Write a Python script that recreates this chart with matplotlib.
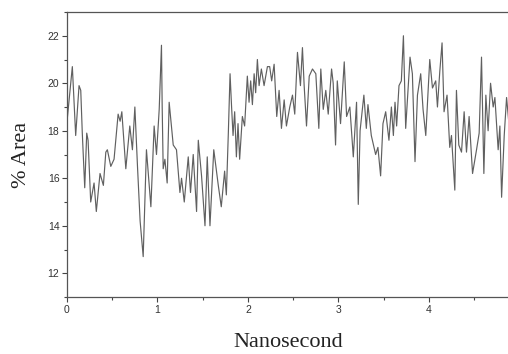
import matplotlib
matplotlib.use("Agg")
import matplotlib.pyplot as plt
from matplotlib.ticker import MultipleLocator

time_ns = [0.003, 0.059, 0.096, 0.133, 0.152, 0.169, 0.196, 0.218, 0.233, 0.262,
           0.299, 0.324, 0.365, 0.402, 0.429, 0.446, 0.484, 0.520, 0.565, 0.587,
           0.606, 0.650, 0.694, 0.723, 0.750, 0.779, 0.808, 0.842, 0.878, 0.927,
           0.963, 0.989, 1.019, 1.044, 1.052, 1.063, 1.082, 1.107, 1.129, 1.174,
           1.210, 1.248, 1.266, 1.296, 1.340, 1.365, 1.395, 1.432, 1.451, 1.487,
           1.525, 1.550, 1.580, 1.622, 1.672, 1.705, 1.742, 1.761, 1.783, 1.802,
           1.819, 1.835, 1.853, 1.872, 1.890, 1.908, 1.938, 1.963, 1.993, 2.012,
           2.030, 2.049, 2.068, 2.085, 2.104, 2.123, 2.148, 2.178, 2.215, 2.240,
           2.262, 2.289, 2.318, 2.344, 2.370, 2.400, 2.425, 2.462, 2.492, 2.517,
           2.547, 2.580, 2.602, 2.621, 2.647, 2.677, 2.713, 2.750, 2.783, 2.805,
           2.832, 2.860, 2.887, 2.924, 2.942, 2.968, 2.987, 3.023, 3.064, 3.090,
           3.126, 3.164, 3.200, 3.219, 3.239, 3.281, 3.308, 3.326, 3.363, 3.411,
           3.436, 3.466, 3.492, 3.522, 3.558, 3.585, 3.607, 3.625, 3.643, 3.669,
           3.695, 3.718, 3.743, 3.791, 3.817, 3.846, 3.873, 3.909, 3.935, 3.965,
           4.009, 4.039, 4.075, 4.094, 4.120, 4.145, 4.167, 4.200, 4.230, 4.249,
           4.286, 4.304, 4.330, 4.360, 4.389, 4.415, 4.444, 4.482, 4.526, 4.555,
           4.581, 4.607, 4.629, 4.654, 4.681, 4.710, 4.729, 4.765, 4.784, 4.803,
           4.832, 4.858, 4.884]

area_pct = [18.5, 20.7, 17.8, 19.9, 19.7, 17.9, 15.6, 17.9, 17.6, 15.0,
            15.8, 14.6, 16.2, 15.7, 17.1, 17.2, 16.5, 16.8, 18.7, 18.4,
            18.8, 16.4, 18.2, 17.2, 19.0, 16.5, 14.2, 12.7, 17.2, 14.8,
            18.2, 17.0, 18.9, 21.6, 19.0, 16.4, 16.8, 15.8, 19.2, 17.4,
            17.2, 15.4, 16.0, 15.0, 16.9, 15.4, 17.0, 14.6, 17.6, 16.1,
            14.0, 16.9, 14.0, 17.2, 15.7, 14.8, 16.3, 15.3, 17.9, 20.4,
            19.0, 17.8, 18.8, 16.9, 18.3, 16.8, 18.6, 18.2, 20.3, 19.2,
            20.1, 19.1, 20.4, 19.6, 21.0, 19.9, 20.6, 19.9, 20.7, 20.7,
            20.1, 20.8, 18.6, 19.7, 18.1, 19.3, 18.2, 19.0, 19.5, 18.7,
            21.3, 19.9, 21.5, 19.9, 18.2, 20.3, 20.6, 20.4, 18.1, 20.6,
            18.9, 19.7, 18.7, 20.6, 20.0, 17.4, 20.1, 18.3, 20.9, 18.6,
            19.0, 16.9, 19.2, 14.9, 18.0, 19.5, 18.1, 19.1, 17.8, 17.0,
            17.3, 16.1, 18.3, 18.8, 17.6, 19.0, 17.8, 19.2, 18.2, 19.9,
            20.1, 22.0, 18.1, 21.1, 20.4, 16.7, 19.5, 20.4, 18.9, 17.8,
            21.0, 19.8, 20.1, 19.0, 20.5, 21.7, 18.8, 19.5, 17.3, 17.8,
            15.5, 19.7, 17.4, 17.1, 18.8, 17.1, 18.6, 16.2, 17.2, 17.9,
            21.1, 16.2, 19.5, 18.0, 20.0, 19.0, 19.4, 17.2, 18.2, 15.2,
            17.8, 19.4, 18.3]

x_ticks = [0, 1, 2, 3, 4]
y_ticks = [12, 14, 16, 18, 20, 22]

fig = plt.figure(figsize=(5.08, 3.54), dpi=100)
ax = fig.add_axes([67/508, 1 - 297/354, 1 - 67/508 + 0.002, (297 - 12)/354])

ax.plot(time_ns, area_pct, color="#606060", lw=0.85)

ax.set_xlim(0, 4.885)
ax.set_ylim(11, 23)
ax.set_xticks(x_ticks)
ax.set_yticks(y_ticks)
ax.xaxis.set_minor_locator(MultipleLocator(0.5))
ax.yaxis.set_minor_locator(MultipleLocator(1))

tick_font = {"family": "Liberation Sans", "size": 7.5}
ax.set_xticklabels([str(t) for t in x_ticks], fontdict=tick_font, color="#333333")
ax.set_yticklabels([str(t) for t in y_ticks], fontdict=tick_font, color="#333333")
ax.tick_params(which="both", direction="out", color="#444444", width=0.8)
ax.tick_params(which="major", length=3.5, pad=2)
ax.tick_params(which="minor", length=2.5)

for side in ["left", "bottom", "top"]:
    ax.spines[side].set_color("#555555")
    ax.spines[side].set_linewidth(0.9)
ax.spines["right"].set_visible(False)

ax.set_xlabel("Nanosecond", family="Liberation Serif", fontsize=16, color="#222222", labelpad=13)
ax.set_ylabel("% Area", family="Liberation Serif", fontsize=16, color="#222222", labelpad=12)

fig.savefig("out.png", dpi=100)
